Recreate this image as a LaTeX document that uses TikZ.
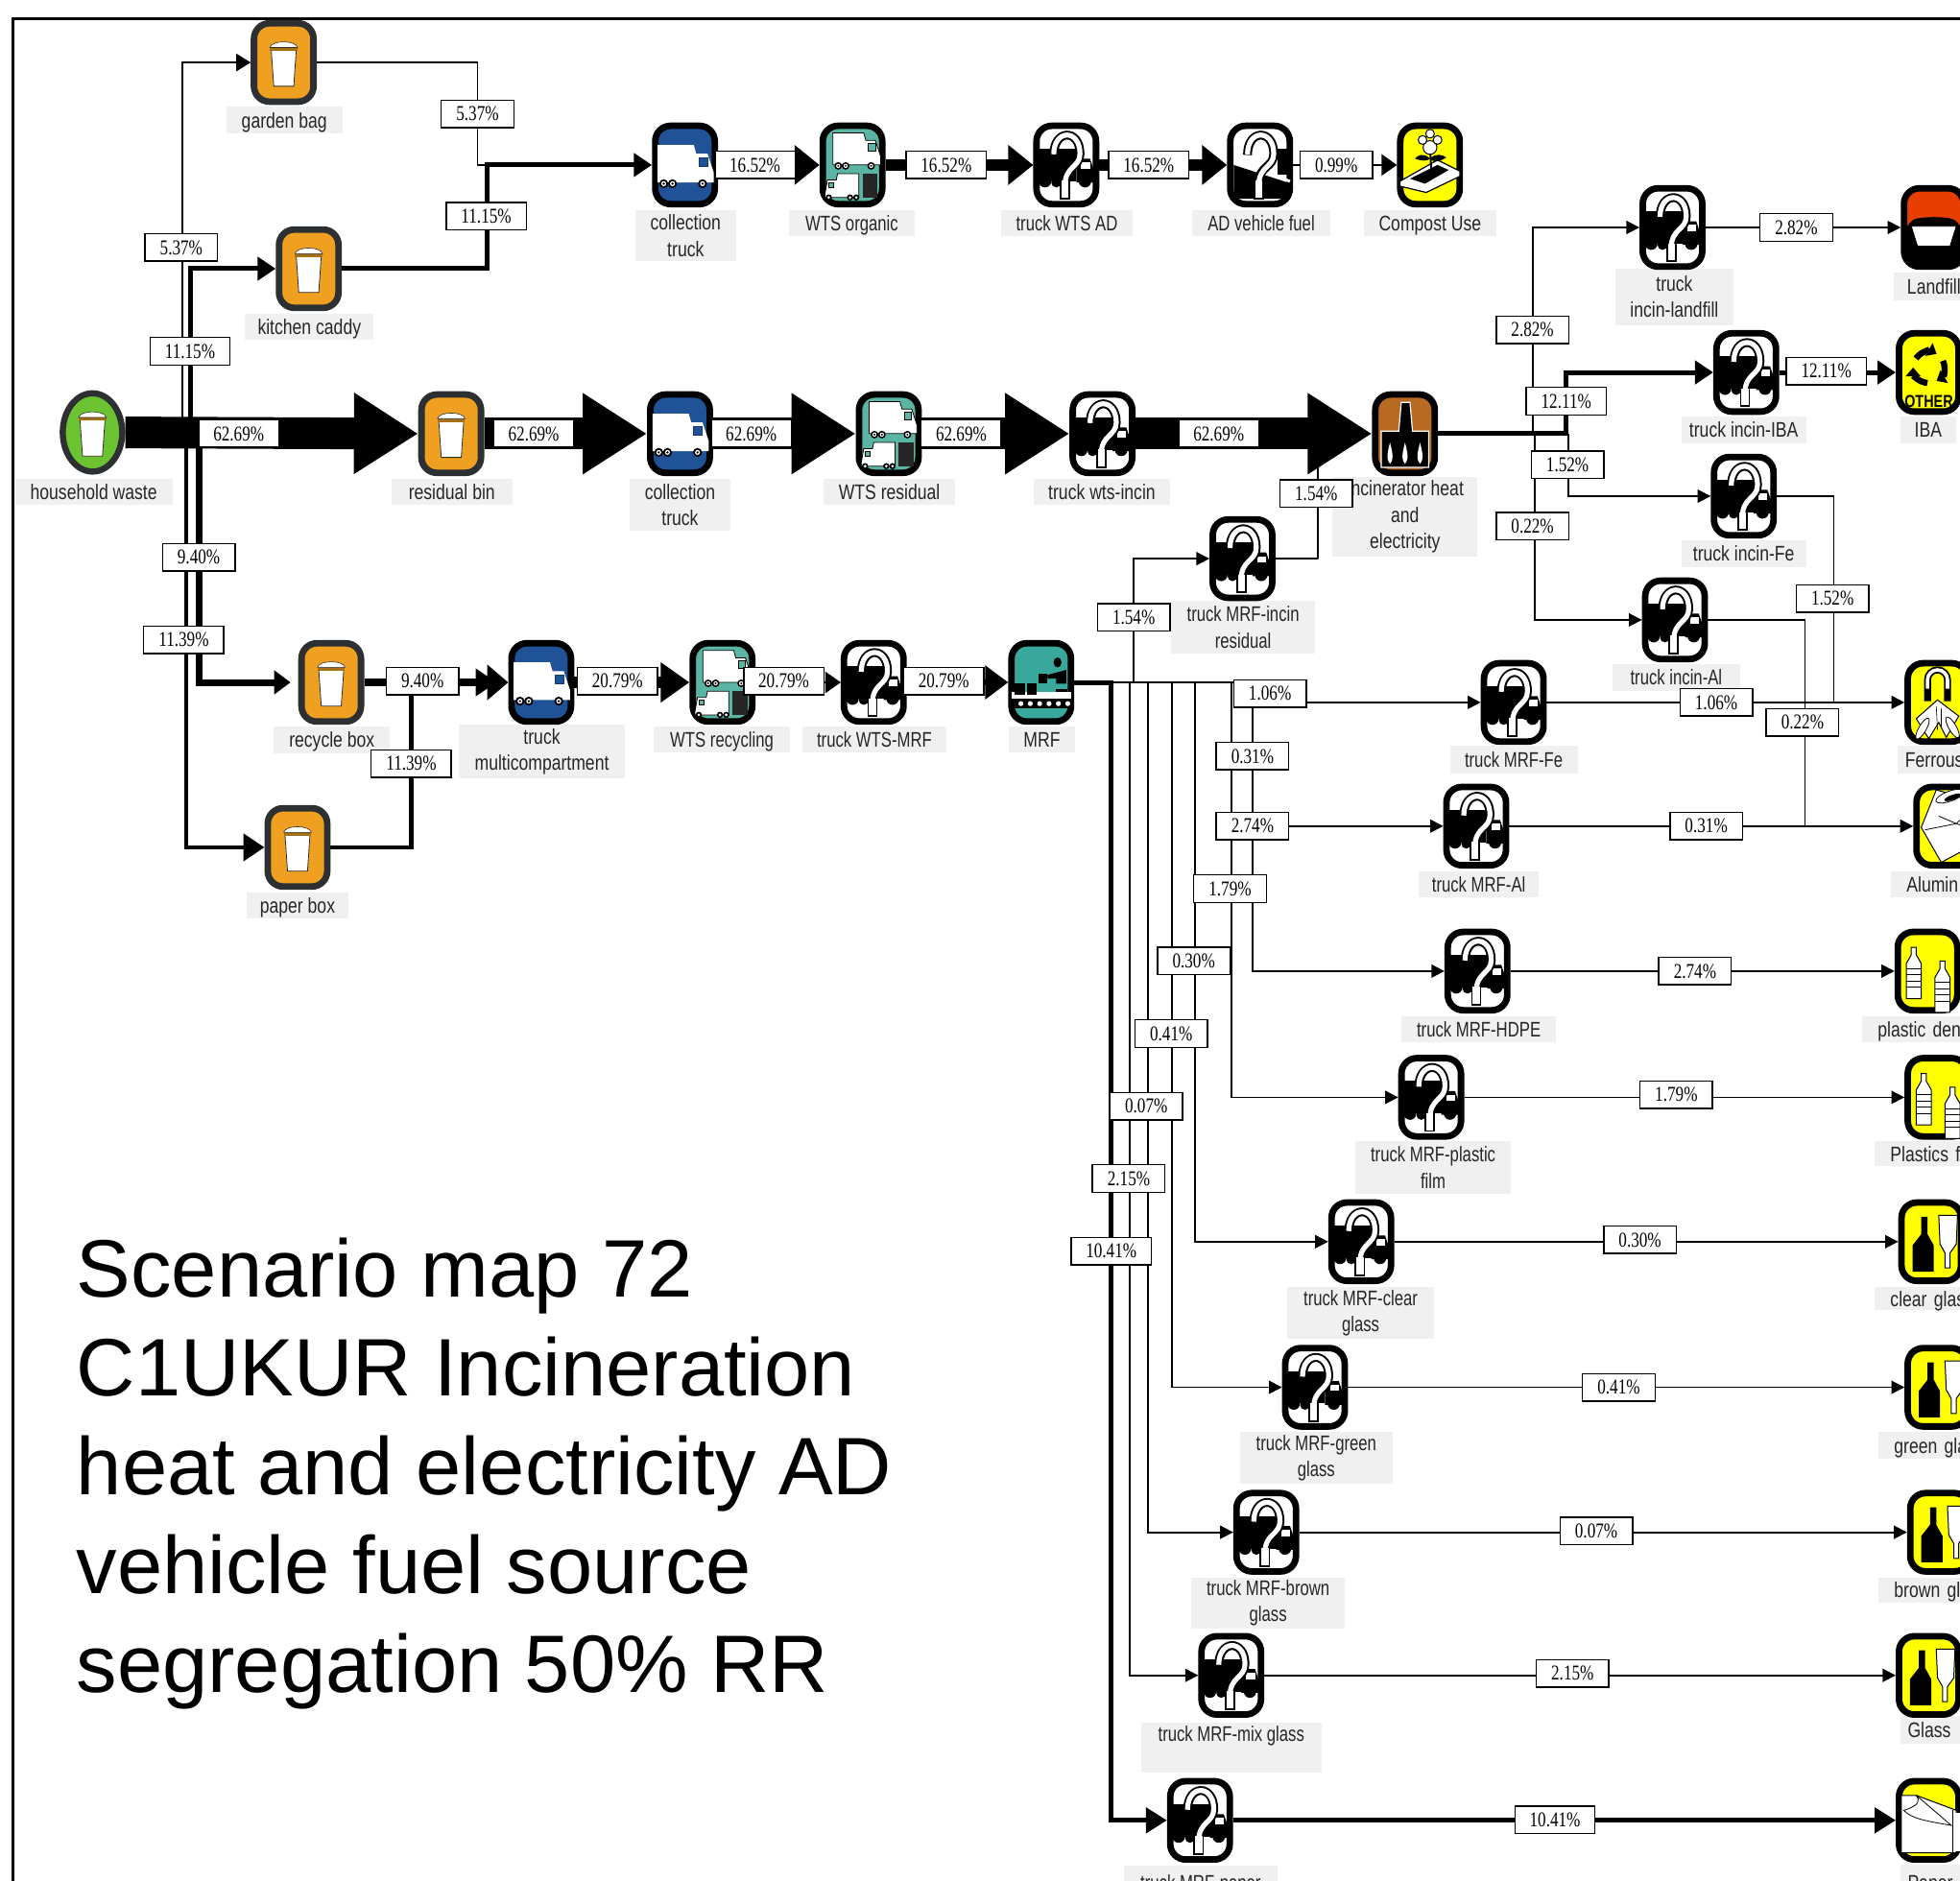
\documentclass[tikz,border=0pt]{standalone}
\usepackage{fontspec}
\setmainfont{Liberation Sans}
\newfontfamily\lblfont[FakeStretch=0.80]{Liberation Sans}
\newfontfamily\capf[FakeStretch=0.76]{Liberation Sans}
\newfontfamily\pctfont[FakeStretch=0.78]{Liberation Serif}
\usetikzlibrary{arrows.meta,calc,shapes.geometric}
\definecolor{labgray}{HTML}{F0F0F0}
\definecolor{binor}{HTML}{F0A020}
\definecolor{bindk}{HTML}{2D3033}
\definecolor{vanblue}{HTML}{1F5296}
\definecolor{wtsteal}{HTML}{5BB5A5}
\definecolor{mrfteal}{HTML}{38A89D}
\definecolor{incbrown}{HTML}{B86A22}
\definecolor{hhgreen}{HTML}{6CC332}
\definecolor{lfred}{HTML}{E83E00}
\definecolor{enduse}{HTML}{FFFF00}
\tikzset{
  ico/.style={draw=black,line width=3.4pt,rounded corners=8pt,minimum width=31pt,minimum height=40.8pt,inner sep=0pt},
  icbin/.style={ico,fill=binor,draw=bindk},
  icvan/.style={ico,fill=vanblue},
  icwts/.style={ico,fill=wtsteal},
  icq/.style={ico,fill=white},
  icy/.style={ico,fill=enduse},
  pbox/.style={draw=black,fill=white,line width=.7pt,inner sep=0pt,minimum width=37.8pt,minimum height=14.3pt,font=\pctfont\fontsize{11}{12}\selectfont},
  pwide/.style={pbox,minimum width=41.7pt},
  labm/.style={fill=labgray,inner sep=0pt,align=center,text=black!85,font=\lblfont\fontsize{11}{13.7}\selectfont},
  lab/.style={labm,text height=8pt,text depth=0pt},
  flowthin/.style={line width=.9pt,-{Triangle[length=6.8pt,width=6.8pt]}},
  flowplain/.style={line width=.9pt},
  flowk/.style={line width=2.5pt,-{Triangle[length=9.5pt,width=12pt]}},
  flowm/.style={line width=2.8pt,-{Triangle[length=11pt,width=14pt]}},
  flowr/.style={line width=3.5pt,-{Triangle[length=8.5pt,width=12pt]}},
  flowo/.style={line width=6pt,-{Triangle[length=11pt,width=18pt]}},
  flowh/.style={line width=16.5pt,-{Triangle[length=33.5pt,width=40pt]}},
  flows/.style={line width=6pt,-{Triangle[length=13pt,width=20pt]}},
  flowc/.style={line width=1pt,-{Triangle[length=8pt,width=11pt]}},
  pics/cupg/.style={code={
    \fill[white,draw=bindk,line width=.4pt] (-10,-10)--(10,-10)--(8,19)--(-8,19)--cycle;
    \fill[binor!70!black] (-11,-12) rectangle (11,-9.5);
    \fill[white,draw=bindk,line width=.3pt] (-11,-12) .. controls (-10,-18) and (10,-18) .. (11,-12) --cycle;
  }},
  pics/vang/.style={code={
    \fill[white] (-22,-16)--(7,-16)--(9,-9)--(18,-9)--(23,6)--(23,14)--(-22,14)--cycle;
    \draw[vanblue!70!black,line width=.4pt,fill=vanblue] (11,-6) rectangle (18,1);
    \foreach \wx in {-17,-10,14}{\fill[black] (\wx,15) circle (3.6); \fill[white] (\wx,15) circle (2); \fill[black] (\wx,15) circle (1);}
  }},
  pics/wtsg/.style={code={
    \begin{scope}[shift={(3,-12)},scale=.85]\fill[white,draw=black,line width=.4pt] (-22,-16)--(7,-16)--(9,-9)--(18,-9)--(23,6)--(23,14)--(-22,14)--cycle;
      \draw[black,line width=.3pt,fill=wtsteal] (11,-6) rectangle (18,1);
      \foreach \wx in {-17,-10,14}{\fill[black] (\wx,15) circle (3.6); \fill[white] (\wx,15) circle (2); \fill[black] (\wx,15) circle (1);}
    \end{scope}
    \begin{scope}[shift={(-8,16)}]\fill[white,draw=black,line width=.4pt] (13,-9)--(-4,-9)--(-5,-4)--(-12,-4)--(-14,7)--(-14,10)--(13,10)--cycle;
      \draw[black,line width=.3pt,fill=wtsteal] (-11,-2) rectangle (-7,2);
      \foreach \wx in {-11,6,11}{\fill[black] (\wx,10) circle (2.5); \fill[white] (\wx,10) circle (1.2);}
    \end{scope}
    \fill[black!85] (8,7) rectangle (20,26);
  }},
  pics/qmark/.style={code={
    \draw[black,line width=4.6pt] (-10,-8) .. controls (-10,-29) and (11,-29) .. (11,-9) .. controls (11,2) and (-1,1) .. (-1,14);
    \draw[black,fill=white,line width=.9pt] (-4.5,12) rectangle (2.5,27);
    \draw[white,line width=2.6pt] (-10,-8.5) .. controls (-10,-29) and (11,-29) .. (11,-9) .. controls (11,2) and (-1,1) .. (-1,16);
  }},
  pics/qtruckg/.style={code={
    \fill[black] (-22,-13) rectangle (8,13);
    \fill[black] (8,-5)--(19,-5)--(22,4)--(22,14)--(8,14)--cycle;
    \fill[black] (-17,13) circle (5);
    \fill[black] (-8,14) circle (4);
    \fill[black] (15,13) circle (5);
    \fill[white] (12,-2) rectangle (19,3);
    \pic at (0,0) {qmark};
  }},
  pics/adg/.style={code={
    \fill[black] (-21,0)--(22,14)--(22,27)--(-21,27)--cycle;
    \fill[black] (14,-13) rectangle (22,8);
    \draw[white,line width=1.5pt] (-21,-2)--(24,13);
    \pic at (0,0) {qmark};
  }},
  pics/compg/.style={code={
    \fill[white,draw=black,line width=.6pt] (-24,13)--(6,-4)--(24,5)--(24,9)--(-3,22)--(-24,17)--cycle;
    \fill[black] (-16,11)--(6,0)--(15,4)--(-4,15)--cycle;
    \draw[black,line width=1pt] (1,3)--(0,-13);
    \fill[black] (0,-5) .. controls (-5,-10) and (-10,-8) .. (-12,-5) .. controls (-6,-3) and (-3,-3) .. (0,-5);
    \fill[black] (0,-5) .. controls (5,-10) and (10,-8) .. (13,-6) .. controls (7,-2) and (3,-2) .. (0,-5);
    \fill[white,draw=black,line width=.5pt] (0,-14) circle (5.5);
    \fill[white,draw=black,line width=.5pt] (-6,-20) circle (3.5);
    \fill[white,draw=black,line width=.5pt] (6,-20) circle (3.5);
    \fill[white,draw=black,line width=.5pt] (0,-25) circle (3.5);
  }},
  pics/incg/.style={code={
    \fill[black,draw=white,line width=.6pt] (-19,-2) -- (-5,-2) -- (-3,-25) -- (4,-25) -- (6,-2) -- (19,-2) -- (19,27) -- (-19,27) -- cycle;
    \fill[black] (-4,2) -- (-2,-23) -- (3,-23) -- (5,2) -- cycle;
    \foreach \fx in {-12,0,12}{\fill[white] (\fx,24) .. controls (\fx-4,20) and (\fx-1,12) .. (\fx,7) .. controls (\fx+1,12) and (\fx+4,20) .. (\fx,24);}
  }},
  pics/mrfg/.style={code={
    \fill[white] (-24,8) rectangle (24,13);
    \fill[black] (-23,13) rectangle (24,21);
    \foreach \wx in {-20,-12.5,-5,2.5,10,17.5}{\fill[white] (\wx+3.7,17) circle (2);}
    \fill[black] (13,-16) ellipse (3.2 and 4);
    \fill[black] (5,-6)--(20,-10)--(20,1)--(12,1)--(12,-3)--(5,-3)--cycle;
    \fill[black] (12,5) rectangle (21,8);
    \fill[black] (-2,-7) rectangle (5,1);
    \fill[black] (-21,1) rectangle (-13,10);
    \fill[black] (-11,1) rectangle (-3.5,10);
  }},
  pics/lfg/.style={code={
    \fill[black,rounded corners=6pt] (-24,-1) .. controls (-12,-9) and (12,-9) .. (24,-1) -- (24,31) -- (-24,31)--cycle;
    \fill[white,draw=black,line width=.4pt] (-18,-1)--(18,-1)--(13,15)--(-13,15)--cycle;
  }},
  pics/ibag/.style={code={
    \foreach \a in {95,215,335}{
      \draw[line width=3.2pt,-{Triangle[length=4.6pt,width=7.5pt]}] ($(0,-4)+(\a:12.5)$) arc (\a:\a+85:12.5);
    }
    \node[inner sep=0pt,font=\lblfont\bfseries\fontsize{9}{9}\selectfont] (othertxt) at (0,23) {OTHER};
  }},
  pics/ferrg/.style={code={
    \draw[black,line width=3.6pt] (-8,-1) -- (-8,-18) arc (180:360:8) -- (8,-1);
    \draw[white,line width=1.8pt] (-8,-11) -- (-8,-18) arc (180:360:8) -- (8,-11);
    \fill[white,draw=black,line width=.5pt] (0,-2) -- (-17,13) -- (-7,29) -- (1,16) -- (7,28) -- (17,11) -- cycle;
    \draw[black,line width=.3pt] (-1,3)--(0,22) (3,5)--(3,20);
    \fill[white,draw=black,line width=.4pt,rotate around={60:(-12,21)}] (-12,21) ellipse (9.5 and 3);
    \fill[white,draw=black,line width=.4pt,rotate around={-60:(12,20)}] (12,20) ellipse (9.5 and 3);
  }},
  pics/alg/.style={code={
    \fill[white,draw=black,line width=.5pt] (-8,-29) -- (-20,1) -- (-4,29) -- (24,14) -- (24,-20) -- cycle;
    \fill[white,draw=black,line width=.4pt,rotate around={20:(3,-24)}] (3,-24) ellipse (12 and 4);
    \fill[black,rotate around={20:(5,-23)}] (5,-23) ellipse (7 and 2);
    \draw[black,line width=.4pt] (-17,3)--(8,-2)--(20,2) (-6,-8)--(8,-2) (8,-2)--(14,-8);
  }},
  pics/bottlew/.style={code={
    \fill[white,draw=black,line width=.5pt] (-6,22) -- (-6,-6) -- (-2,-13) -- (-2,-19) -- (2,-19) -- (2,-13) -- (6,-6) -- (6,22) -- cycle;
    \foreach \by in {-2,3,8,13}{\draw[black,line width=.5pt] (-6,\by) -- (6,\by);}
  }},
  pics/plasticg/.style={code={
    \begin{scope}[shift={(-11,0)},xscale=1.7,yscale=1.35]\pic at (0,0) {bottlew};\end{scope}
    \begin{scope}[shift={(12,11)},xscale=1.3,yscale=.83]\pic at (0,0) {bottlew};\end{scope}
  }},
  pics/glassg/.style={code={
    \fill[black] (-15,24) -- (-15,3) -- (-8,-6) -- (-8,-20) -- (-3,-20) -- (-3,-6) -- (2,3) -- (2,24) -- cycle;
    \fill[white,draw=black,line width=.5pt] (6,-21) -- (21,-21) -- (20,2) -- (15,9) -- (15,21) -- (11,21) -- (11,9) -- (7,2) -- cycle;
  }},
  pics/paperg/.style={code={
    \fill[white,draw=black,line width=.5pt] (-22,-20) -- (-10,-20) -- (22,-8) -- (22,26) -- (-22,26) -- cycle;
    \draw[white,fill=white] (18,-6) rectangle (26,24);
    \draw[black,line width=.4pt] (19,-8)--(19,26);
    \draw[black,line width=.4pt] (-10,-20) .. controls (-7,-16) and (-7,-12) .. (-20,-8) .. controls (-14,-2) and (-6,0) .. (18,4) -- (-10,-20);
  }}
}
\newcommand{\ic}[5]{\node[#4] (#1) at (#2,#3) {}; \pic at (#1) {#5};}
\newcommand{\qt}[3]{\node[icq] (#1) at (#2,#3) {}; \pic at (#1) {qtruckg};}
\newcommand{\lb}[6]{\node[lab,minimum width={(#4-#2)*0.6512pt},minimum height={(#5-#3)*0.6512pt}] (#1) at ({(#2+#4)/2},{(#3+#5)/2}) {#6};}
\newcommand{\lbm}[6]{\node[labm,minimum width={(#4-#2)*0.6512pt},minimum height={(#5-#3)*0.6512pt}] (#1) at ({(#2+#4)/2},{(#3+#5)/2}) {#6};}
\newcommand{\ledge}[6]{\node[lab,align=left,text width={(1620-#2)*0.6512pt},minimum height={(#4-#3)*0.6512pt}] (#1) at ({(#2+1620)/2},{(#3+#4)/2}) {\hspace*{#5pt}#6};}
\newcommand{\pcb}[4]{\node[pbox] (#1) at (#2,#3) {#4\%};}
\newcommand{\pcw}[4]{\node[pwide] (#1) at (#2,#3) {#4\%};}
\begin{document}
\begin{tikzpicture}[x=0.6512pt,y=-0.6512pt]
\useasboundingbox (0,0) rectangle (1568,1505);
\clip (0,0) rectangle (1568,1505);
\fill[white] (0,0) rectangle (1568,1505);
% frame
\coordinate (fa) at (10.5,1530); \coordinate (fb) at (10.5,15); \coordinate (fc) at (1590,15);
\draw[black,line width=1.2pt] (fa) -- (fb) -- (fc);
% grey captions
\lb{lhh}{12}{383}{138}{404}{household waste}
\lb{lgar}{181}{85}{274}{107}{garden bag}
\lb{lkit}{196}{251}{299}{272}{kitchen caddy}
\lb{lres}{313}{383}{410}{404}{residual bin}
\lb{lrec}{219}{581}{312}{603}{recycle box}
\lb{lpap}{197}{714}{279}{735}{paper box}
\lbm{lct}{508}{168}{589}{209}{collection\\truck}
\lb{lwo}{631}{168}{732}{189}{\capf WTS organic}
\lb{lta}{801}{168}{906}{189}{\capf truck WTS AD}
\lb{lad}{954}{168}{1064}{189}{\capf AD vehicle fuel}
\lb{lcu}{1091}{168}{1197}{189}{Compost Use}
\lbm{lcm}{504}{383}{584}{425}{collection\\truck}
\lb{lwr}{659}{383}{764}{404}{WTS residual}
\lb{ltw}{827}{383}{936}{404}{truck wts-incin}
\lbm{linc}{1066}{382}{1182}{445}{Incinerator heat\\and\\electricity}
\lbm{ltmi}{937}{481}{1052}{523}{\capf truck MRF-incin\\\capf residual}
\lbm{ltm}{367}{580}{500}{623}{truck\\multicompartment}
\lb{lwy}{523}{581}{632}{602}{\capf WTS recycling}
\lb{ltwm}{642}{581}{757}{602}{\capf truck WTS-MRF}
\lb{lmrf}{807}{581}{860}{602}{MRF}
\lbm{ltl}{1292}{215}{1387}{260}{truck\\incin-landfill}
\lb{ltib}{1345}{333}{1445}{355}{truck incin-IBA}
\lb{liba}{1520}{333}{1565}{355}{IBA}
\lb{ltf}{1345}{432}{1445}{454}{truck incin-Fe}
\lb{ltal}{1290}{531}{1392}{553}{\capf truck incin-Al}
\lb{ltmf}{1160}{597}{1262}{619}{\capf truck MRF-Fe}
\lb{ltma}{1135}{697}{1231}{718}{\capf truck MRF-Al}
\lb{lthd}{1121}{813}{1245}{834}{\capf truck MRF-HDPE}
\lbm{ltpf}{1084}{913}{1209}{955}{\capf truck MRF-plastic\\\capf film}
\lbm{ltcl}{1030}{1030}{1147}{1071}{\capf truck MRF-clear\\\capf glass}
\lbm{ltgr}{992}{1146}{1114}{1187}{\capf truck MRF-green\\\capf glass}
\lbm{ltbr}{953}{1262}{1076}{1303}{\capf truck MRF-brown\\\capf glass}
\lbm{ltmx}{913}{1378}{1057}{1418}{\capf truck MRF-mix glass\\\mbox{}}
\lb{ltpp}{899}{1493}{1022}{1520}{\capf truck MRF-paper}
\ledge{llf}{1515}{218}{240}{7}{Landfill}
\ledge{lfe}{1518}{597}{619}{4}{Ferrous}
\ledge{lalu}{1513}{697}{718}{8}{Alumin}
\ledge{lpd}{1490}{813}{834}{8}{plastic den}
\ledge{lpf}{1500}{913}{933}{8}{Plastics f}
\ledge{lcg}{1500}{1030}{1048}{8}{clear glas}
\ledge{lgg}{1503}{1146}{1167}{8}{green gla}
\ledge{lbg}{1503}{1262}{1282}{8}{brown gla}
\ledge{lgl}{1520}{1373}{1395}{4}{Glass}
\ledge{lppr}{1520}{1492}{1520}{4}{Paper}
% icons
\node[ellipse,draw=bindk,fill=hhgreen,line width=3.2pt,minimum width=31pt,minimum height=40.8pt,inner sep=0pt] (hh) at (74,346) {}; \pic at (hh) {cupg};
\ic{garden}{227}{50}{icbin}{cupg}
\ic{caddy}{247}{215}{icbin}{cupg}
\ic{resid}{361}{347}{icbin}{cupg}
\ic{recyc}{265}{546}{icbin}{cupg}
\ic{paperbox}{238}{678}{icbin}{cupg}
\ic{colla}{548}{132}{icvan}{vang}
\ic{wtso}{682}{132}{icwts}{wtsg}
\qt{twad}{853}{132}
\ic{adf}{1008}{132}{icq}{adg}
\ic{comp}{1144}{132}{icy}{compg}
\ic{collb}{544}{347}{icvan}{vang}
\ic{wtsr}{711}{347}{icwts}{wtsg}
\qt{twi}{882}{347}
\ic{incin}{1124}{347}{ico,fill=incbrown}{incg}
\qt{tmi}{994}{447}
\ic{tmc}{433}{546}{icvan}{vang}
\ic{wtsy}{578}{546}{icwts}{wtsg}
\qt{twm}{699}{546}
\ic{mrf}{833}{546}{ico,fill=mrfteal}{mrfg}
\qt{til}{1338}{182}
\ic{landf}{1547}{182}{ico,fill=lfred}{lfg}
\qt{tib}{1397}{298}
\ic{iba}{1543}{298}{icy}{ibag}
\qt{tif}{1395}{397}
\qt{tia}{1340}{496}
\qt{tmf}{1211}{562}
\ic{ferr}{1550}{562}{icy}{ferrg}
\qt{tma}{1181}{661}
\ic{alu}{1557}{661}{icy}{alg}
\qt{thd}{1182}{777}
\ic{pden}{1542}{777}{icy}{plasticg}
\qt{tpf}{1145}{878}
\ic{pfilm}{1550}{878}{icy}{plasticg}
\qt{tcl}{1089}{993.5}
\ic{cgl}{1545}{993.5}{icy}{glassg}
\qt{tgr}{1052}{1110}
\ic{ggl}{1550}{1110}{icy}{glassg}
\qt{tbr}{1013}{1226}
\ic{bgl}{1552}{1226}{icy}{glassg}
\qt{tmx}{985}{1340.5}
\ic{mgl}{1543}{1340.5}{icy}{glassg}
\qt{tpa}{960}{1456.5}
\ic{ppr}{1543}{1456.5}{icy}{paperg}
% junctions
\coordinate (ja) at (146,347);
\coordinate (jb) at (152.5,347);
\coordinate (jc) at (159,347);
\coordinate (jd) at (149,347);
\coordinate (je) at (382,132);
\coordinate (jf) at (390,132);
\coordinate (jg) at (329,546);
\coordinate (ji) at (1253,347);
\coordinate (jl) at (1226,347);
\coordinate (jm) at (1228,347);
\coordinate (jn) at (1254.5,347);
\coordinate (jo) at (1467,562);
\coordinate (jp) at (1444,661);
\coordinate (jq) at (1054,347);
\coordinate (jr) at (907,546);
\coordinate (b0) at (889,546);
\coordinate (b1) at (903.5,546);
\coordinate (b2) at (918.5,546);
\coordinate (b3) at (937.5,546);
\coordinate (b4) at (956,546);
\coordinate (b5) at (985,546);
\coordinate (b6) at (1002,546);
% connectors
\draw[flowh] (hh.east) -- (resid.west);
\draw[flowthin,-{Triangle[length=7.5pt,width=9pt]}] (ja) |- (garden.west);
\draw[flowk] (jb) |- (caddy.west);
\draw[flowr,shorten >=4pt] (jc) |- (recyc.west);
\draw[flowm,line width=2.3pt] (jd) |- (paperbox.west);
\draw[flowplain,line join=round] (garden.east) -| (je) -- (jf);
\draw[flowk,line width=2.5pt] (caddy.east) -| (jf) -- (colla.west);
\draw[flows] (colla.east) -- (wtso.west);
\draw[flows] (wtso.east) -- (twad.west);
\draw[flows] (twad.east) -- (adf.west);
\draw[flowc] (adf.east) -- (comp.west);
\draw[flowh] (resid.east) -- (collb.west);
\draw[flowh] (collb.east) -- (wtsr.west);
\draw[flowh] (wtsr.east) -- (twi.west);
\draw[flowh] (twi.east) -- (incin.west);
\draw[flowo,line width=4pt] (recyc.east) -- (tmc.west);
\draw[flowm,line width=2.3pt,shorten >=6pt] (paperbox.east) -| (jg) -- (tmc.west);
\draw[flows,-{Triangle[length=15pt,width=20pt]}] (tmc.east) -- (wtsy.west);
\draw[flowc] (wtsy.east) -- (twm.west);
\draw[flows,-{Triangle[length=12pt,width=17pt]},line width=3pt] (twm.east) -- (mrf.west);
% MRF bus
\draw[flowm,line width=2.5pt,-{Triangle[length=11pt,width=13pt]}] (mrf.east) -- (b0) |- (tpa.west);
\draw[flowplain,line width=1pt] (b0) -- (b6);
\draw[flowthin] (b1) |- (tmx.west);
\draw[flowthin] (b2) |- (tbr.west);
\draw[flowthin] (b3) |- (tgr.west);
\draw[flowthin] (b4) |- (tcl.west);
\draw[flowthin] (b5) |- (tpf.west);
\draw[flowthin] (b6) |- (thd.west);
\draw[flowthin] (b6) |- (tma.west);
\draw[flowthin] (b6) |- (tmf.west);
\draw[flowthin] (jr) |- (tmi.west);
\draw[flowplain,line join=round] (tmi.east) -| (jq);
% incinerator outputs
\draw[flowk] (incin.east) -- (ji) |- (tib.west);
\draw[flowthin] (jl) |- (til.west);
\draw[flowthin] (jm) |- (tia.west);
\draw[flowthin] (jn) |- (tif.west);
\draw[flowthin] (til.east) -- (landf.west);
\draw[flowk] (tib.east) -- (iba.west);
\draw[flowplain] (tif.east) -| (jo);
\draw[flowplain] (tia.east) -| (jp);
\draw[flowthin] (tmf.east) -- (ferr.west);
\draw[flowthin] (tma.east) -- (alu.west);
\draw[flowthin] (thd.east) -- (pden.west);
\draw[flowthin] (tpf.east) -- (pfilm.west);
\draw[flowthin] (tcl.east) -- (cgl.west);
\draw[flowthin] (tgr.east) -- (ggl.west);
\draw[flowthin] (tbr.east) -- (bgl.west);
\draw[flowthin] (tmx.east) -- (mgl.west);
\draw[flowm,line width=2.5pt,-{Triangle[length=11pt,width=13pt]}] (tpa.east) -- (ppr.west);
% percentages
\pcb{p1}{382}{91}{5.37}
\pcb{p2}{145}{198}{5.37}
\pcw{p3}{389}{173}{11.15}
\pcw{p4}{152}{281}{11.15}
\pcw{p5}{191}{347}{62.69}
\pcw{p6}{427}{347}{62.69}
\pcw{p7}{601}{347}{62.69}
\pcw{p8}{769}{347}{62.69}
\pcw{p9}{975}{347}{62.69}
\pcw{p10}{604}{132}{16.52}
\pcw{p11}{757}{132}{16.52}
\pcw{p12}{919}{132}{16.52}
\pcb{p13}{1069}{132}{0.99}
\pcb{p14}{159}{446}{9.40}
\pcw{p15}{147}{512}{11.39}
\pcb{p16}{338}{545}{9.40}
\pcw{p17}{329}{611}{11.39}
\pcw{p18}{494}{545}{20.79}
\pcw{p19}{627}{545}{20.79}
\pcw{p20}{755}{545}{20.79}
\pcb{p21}{1053}{395}{1.54}
\pcb{p22}{907}{494}{1.54}
\pcb{p23}{1226}{264}{2.82}
\pcb{p24}{1437}{182}{2.82}
\pcw{p25}{1253}{321}{12.11}
\pcw{p26}{1461}{297}{12.11}
\pcb{p27}{1254}{372}{1.52}
\pcb{p28}{1466}{479}{1.52}
\pcb{p29}{1226}{421}{0.22}
\pcb{p30}{1442}{578}{0.22}
\pcb{p31}{1016}{555}{1.06}
\pcb{p32}{1373}{562}{1.06}
\pcb{p33}{1002}{605}{0.31}
\pcb{p34}{1365}{661}{0.31}
\pcb{p35}{1002}{661}{2.74}
\pcb{p36}{1356}{777}{2.74}
\pcb{p37}{984}{711}{1.79}
\pcb{p38}{1341}{876}{1.79}
\pcb{p39}{955}{769}{0.30}
\pcb{p40}{1312}{992}{0.30}
\pcb{p41}{937}{827}{0.41}
\pcb{p42}{1295}{1110}{0.41}
\pcb{p43}{917}{885}{0.07}
\pcb{p44}{1277}{1225}{0.07}
\pcb{p45}{903}{943}{2.15}
\pcb{p46}{1258}{1339}{2.15}
\pcw{p47}{889}{1001}{10.41}
\pcw{p48}{1244}{1456}{10.41}
% title
\node[anchor=north west,inner sep=0pt,align=left,font=\fontsize{42.45}{51.5}\selectfont] (title) at (61,990) {Scenario map 72\\C1UKUR Incineration\\heat and electricity AD\\vehicle fuel source\\segregation 50\% RR};
\end{tikzpicture}
\end{document}
